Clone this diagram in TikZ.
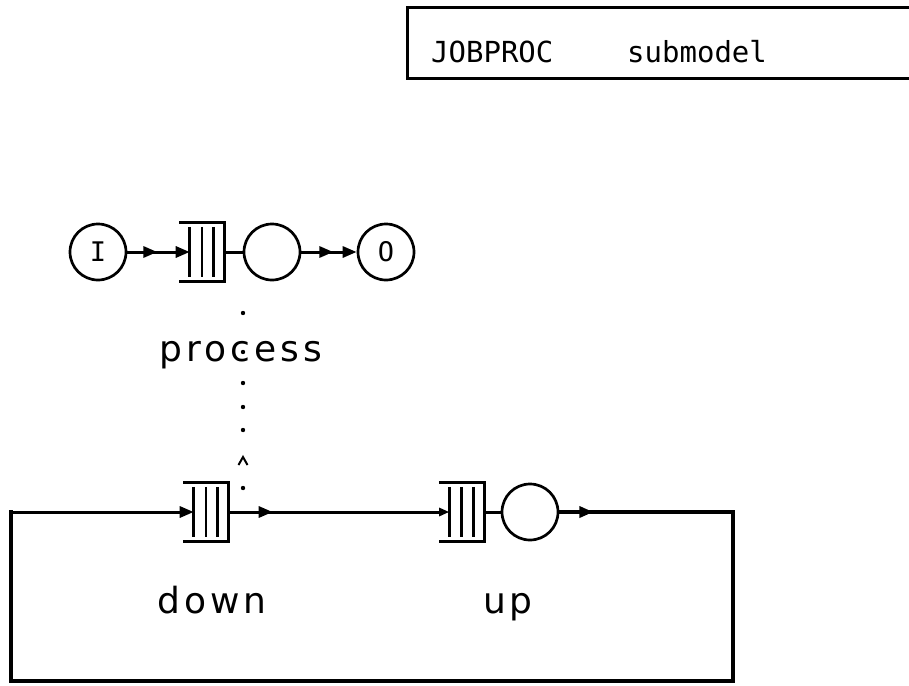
\documentclass[tikz,border=0pt]{standalone}
\usepackage{fontspec}
\newfontfamily\lblfont{DejaVu Sans}[LetterSpace=11]
\newfontfamily\mfont{DejaVu Sans Mono}
\usetikzlibrary{arrows.meta,decorations.markings,calc}
\newcommand\drawqueue[1]{%
  \draw[qline] (#1.north west) -- (#1.north east) -- (#1.south east) -- (#1.south west);
  \foreach \f in {0.23,0.5,0.76}{%
    \draw[qline] ($(#1.north west)!\f!(#1.north east)+(0,4)$) -- ($(#1.south west)!\f!(#1.south east)+(0,-4)$);}
  \coordinate (#1-in) at ($(#1.west)!0.23!(#1.east)$);
}
\begin{document}
\begin{tikzpicture}[x=1pt,y=-1pt,
  conn/.style={line width=3pt},
  frame/.style={line width=3.4pt,line join=miter},
  qline/.style={line width=2.8pt},
  srv/.style={circle,draw,line width=2.7pt,minimum size=56pt,inner sep=0pt},
  qbox/.style={rectangle,minimum width=45pt,minimum height=58pt,inner sep=0pt},
  tip/.style={-{Triangle[length=14pt,width=11pt]}},
  smalltip/.style={-{Triangle[length=10pt,width=8pt]}},
  midarrow/.style={postaction={decorate},decoration={markings,mark=at position #1 with {\arrow{Triangle[length=14pt,width=11pt]}}}},
  lbl/.style={font=\lblfont\fontsize{36}{36}\selectfont,inner sep=0pt},
  ttl/.style={font=\mfont\fontsize{29}{29}\selectfont,inner sep=0pt},
  io/.style={font=\mfont\fontsize{27}{27}\selectfont}]
\clip (0,0) rectangle (909,685);
\fill[white] (0,0) rectangle (909,685);

% title box
\draw[line width=3pt] (915,8) -- (407,8) -- (407,78) -- (915,78);
\node[ttl,anchor=base west] (jobproc) at (431,63) {JOBPROC};
\node[ttl,anchor=base west] (submodel) at (627,63) {submodel};

% top network
\node[srv,io] (I) at (98,252) {I};
\node[qbox] (q1) at (202,252) {};
\drawqueue{q1}
\node[srv] (s1) at (272,252) {};
\node[srv,io] (O) at (386,252) {O};
\draw[conn,tip,midarrow=30pt] (I) -- (q1-in);
\draw[conn] (q1.east) -- (s1);
\draw[conn,tip,midarrow=32pt] (s1) -- (O);

\node[lbl,anchor=base] (process) at (241,361) {process};

% dotted link
\foreach \yy in {313,352,383,407,430,488}{\fill (243,\yy) circle (2.2pt);}
\draw[line width=2pt] (238.5,465) -- (243,457) -- (247.5,465);

% bottom network
\node[qbox] (qd) at (206,512) {};
\drawqueue{qd}
\node[qbox] (qu) at (461.5,512) {};
\drawqueue{qu}
\node[srv] (su) at (530,512) {};
\coordinate (ll) at (11,512);
\coordinate (lb) at (11,681);
\coordinate (rb) at (733,681);
\coordinate (rt) at (733,512);

\draw[conn,tip] (ll) -- (qd-in);
\draw[conn,smalltip,midarrow=44pt] (qd.east) -- (qu-in);
\draw[conn] (qu.east) -- (su);
\draw[frame,midarrow=34pt] (su) -- (rt) -- (rb) -- (lb) -- (ll) -- ++(2,0);

\node[lbl,anchor=base] (down) at (212,613) {down};
\node[lbl,anchor=base] (up) at (508,613) {up};
\end{tikzpicture}
\end{document}
